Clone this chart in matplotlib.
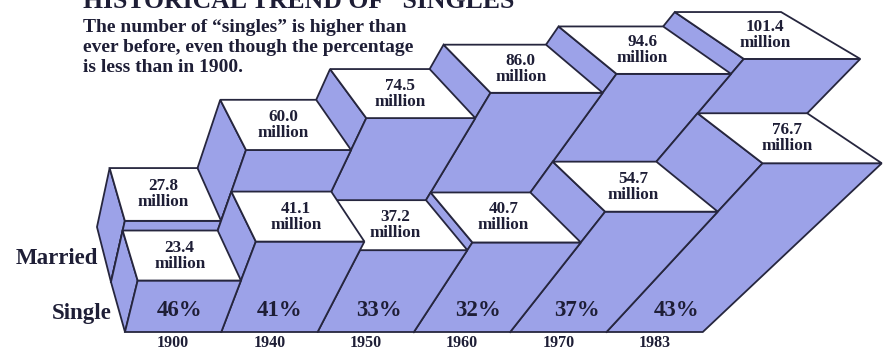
import numpy as np
import matplotlib
matplotlib.use("Agg")
import matplotlib.pyplot as plt
from matplotlib.patches import Polygon

# ---------------- data ----------------
years = ["1900", "1940", "1950", "1960", "1970", "1983"]
single_millions = [23.4, 41.1, 37.2, 40.7, 54.7, 76.7]
married_millions = [27.8, 60.0, 74.5, 86.0, 94.6, 101.4]
single_pct = [46, 41, 33, 32, 37, 43]
row_labels = ["Single", "Married"]
title = "HISTORICAL TREND OF \u201cSINGLES\u201d"
subtitle = ["The number of \u201csingles\u201d is higher than",
            "ever before, even though the percentage",
            "is less than in 1900."]

# ---------------- styling / projection ----------------
BLUE = "#9ca2e8"
EDGE = "#26263e"
TXT = "#1e1e36"
FONT = "Liberation Serif"

X0, A, XC, C_H, M_D = -50.0, 96.3, -1.817, 0.0031, 0.08
V_A = [332.0, 282.0, 227.0]
V_B = [2.2, 2.2, 2.12]


def proj(X, h, d):
    u = X0 + A * (X - XC) * (1 + C_H * h) * (1 - M_D * d)
    a = np.interp(d, [0, 1, 2], V_A)
    b = np.interp(d, [0, 1, 2], V_B)
    return u, a - b * h


def quad(ax, pts, fc):
    xy = [proj(*p) for p in pts]
    ax.add_patch(Polygon(xy, closed=True, facecolor=fc, edgecolor=EDGE,
                         linewidth=1.3, joinstyle="miter"))


def box(ax, i, h, r):
    d0, d1 = r, r + 1
    quad(ax, [(i, 0, d0), (i, h, d0), (i, h, d1), (i, 0, d1)], BLUE)          # left side
    quad(ax, [(i, 0, d0), (i + 1, 0, d0), (i + 1, h, d0), (i, h, d0)], BLUE)  # front
    quad(ax, [(i, h, d0), (i + 1, h, d0), (i + 1, h, d1), (i, h, d1)], "white")  # top cap


fig = plt.figure(figsize=(8.84, 3.51), dpi=100)
ax = fig.add_axes([0, 0, 1, 1])
ax.set_xlim(0, 884)
ax.set_ylim(351, 0)
ax.axis("off")

n = len(years)
# back row (married) right -> left, then front row (single) right -> left
for i in reversed(range(n)):
    box(ax, i, married_millions[i], 1)
for i in reversed(range(n)):
    box(ax, i, single_millions[i], 0)

# cap labels
for r, vals in ((1, married_millions), (0, single_millions)):
    for i, v in enumerate(vals):
        cu, cv = np.mean([proj(i, v, r), proj(i + 1, v, r),
                          proj(i + 1, v, r + 1), proj(i, v, r + 1)], axis=0)
        ax.text(cu, cv, f"{v:.1f}\nmillion", ha="center", va="center",
                fontsize=12.3, fontweight="bold", family=FONT, color=TXT,
                linespacing=1.0, zorder=5)

# percent labels on front faces
for i, p in enumerate(single_pct):
    pu, pv = proj(i + 0.5, 10, 0)
    ax.text(pu, pv, f"{p}%", ha="center", va="center", fontsize=16.5,
            fontweight="bold", family=FONT, color=TXT, zorder=5)

# year labels
for i, y in enumerate(years):
    yu, _ = proj(i + 0.5, 0, 0)
    ax.text(yu, 343, y, ha="center", va="center", fontsize=11.5,
            fontweight="bold", family=FONT, color=TXT)

# row labels
ax.text(112, 313, row_labels[0], ha="right", va="center", fontsize=16.5,
        fontweight="bold", family=FONT, color=TXT)
ax.text(98, 258, row_labels[1], ha="right", va="center", fontsize=16.5,
        fontweight="bold", family=FONT, color=TXT)

# title (partly above the top edge, as in the reference) and subtitle
ax.text(83, 8.5, title, ha="left", va="baseline", fontsize=18.5,
        fontweight="bold", family=FONT, color=TXT)
for k, line in enumerate(subtitle):
    ax.text(83, 27 + 20.5 * k, line, ha="left", va="center", fontsize=14,
            fontweight="bold", family=FONT, color=TXT)

fig.savefig("out.png", dpi=100)
